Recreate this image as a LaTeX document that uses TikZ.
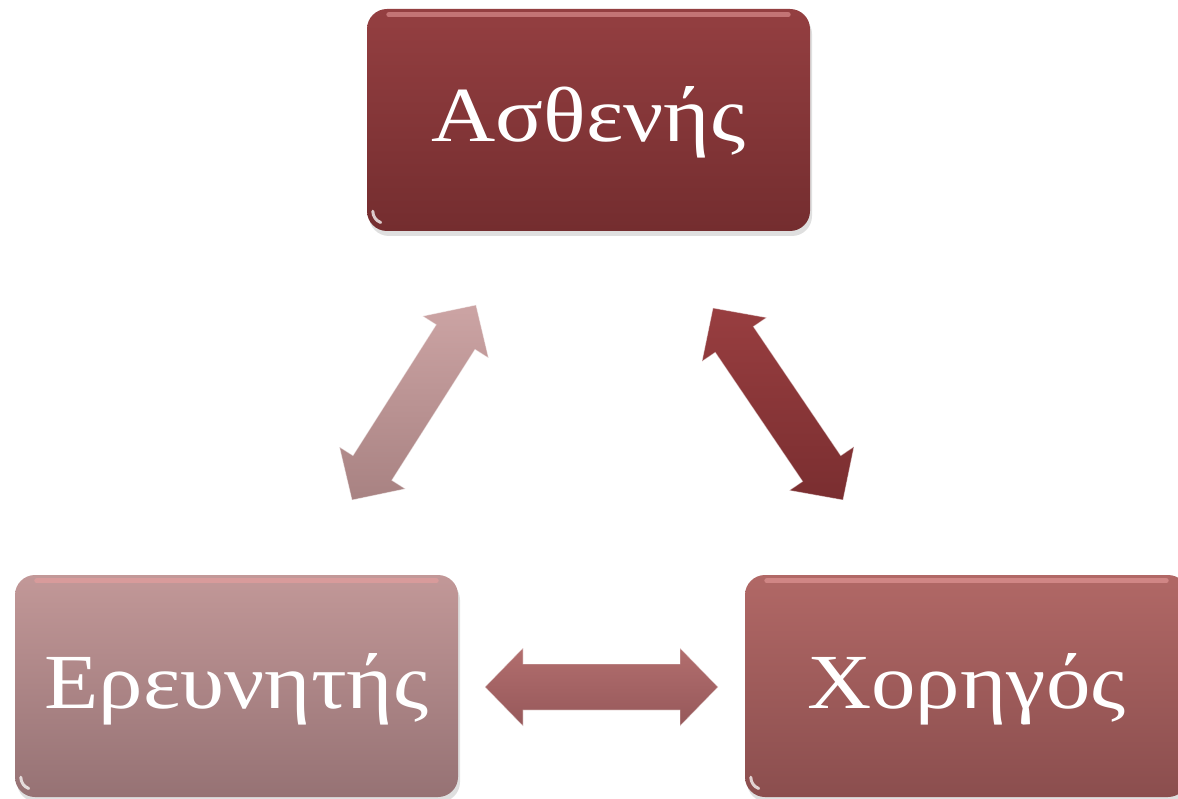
\documentclass[tikz,border=0pt]{standalone}
\usepackage{fontspec}
\setmainfont[FakeStretch=1.14]{Liberation Serif}
\usetikzlibrary{calc,shadows}
\definecolor{patTop}{RGB}{148,63,65}
\definecolor{patBot}{RGB}{116,45,47}
\definecolor{resTop}{RGB}{194,152,152}
\definecolor{resBot}{RGB}{150,114,116}
\definecolor{spoTop}{RGB}{177,104,102}
\definecolor{spoBot}{RGB}{139,78,78}
\definecolor{glossPink}{RGB}{236,160,160}
\definecolor{arLTop}{RGB}{204,164,164}
\definecolor{arLBot}{RGB}{168,130,130}
\definecolor{arRTop}{RGB}{152,62,64}
\definecolor{arRBot}{RGB}{122,46,48}
\definecolor{arBTop}{RGB}{178,110,110}
\definecolor{arBBot}{RGB}{150,88,90}
\tikzset{
  box/.style={rectangle, rounded corners=20pt, minimum width=443pt,
    minimum height=222pt, inner sep=0pt, text=white,
    font=\fontsize{78}{90}\selectfont, text height=50pt, text depth=6pt,
    drop shadow={shadow xshift=2pt, shadow yshift=-5pt, opacity=0.25}},
  gloss/.style={line width=5pt, line cap=round, glossPink, opacity=0.55},
  glint/.style={white, opacity=0.75, line width=3pt, line cap=round},
  barrow/.style={draw=white, draw opacity=0.45, line width=0.8pt, line join=miter},
}
% double block arrow between two named coordinates
\newcommand\blockarrow[3]{%
  \path[barrow,#3] (#1)
    -- ($(#1)!38pt!(#2)!39pt!90:(#2)$)
    -- ($(#1)!38pt!(#2)!23pt!90:(#2)$)
    -- ($(#2)!38pt!(#1)!23pt!-90:(#1)$)
    -- ($(#2)!38pt!(#1)!39pt!-90:(#1)$)
    -- (#2)
    -- ($(#2)!38pt!(#1)!39pt!90:(#1)$)
    -- ($(#2)!38pt!(#1)!23pt!90:(#1)$)
    -- ($(#1)!38pt!(#2)!23pt!-90:(#2)$)
    -- ($(#1)!38pt!(#2)!39pt!-90:(#2)$)
    -- cycle;}
\newcommand\boxgloss[1]{%
  \draw[gloss] ([xshift=22pt,yshift=-6pt]#1.north west) -- ([xshift=-22pt,yshift=-6pt]#1.north east);
  \draw[glint] ([xshift=6pt,yshift=20pt]#1.south west) arc[start angle=180, end angle=250, radius=12pt];}
\begin{document}
\begin{tikzpicture}[x=1pt,y=-1pt]
\useasboundingbox (0,0) rectangle (1178,799);
\fill[white] (0,0) rectangle (1178,799);

\node[box, top color=patTop, bottom color=patBot] (pat) at (588.5,120) {Ασθενής};
\node[box, top color=resTop, bottom color=resBot] (res) at (236.5,686) {Ερευνητής};
\node[box, top color=spoTop, bottom color=spoBot] (spo) at (966.5,686) {Χορηγός};
\boxgloss{pat}
\boxgloss{res}
\boxgloss{spo}

\coordinate (lA) at (352,500);
\coordinate (lB) at (476,305);
\coordinate (rA) at (713,308);
\coordinate (rB) at (843,500);
\coordinate (bA) at (485,687);
\coordinate (bB) at (718,687);

\blockarrow{lA}{lB}{top color=arLTop, bottom color=arLBot}
\blockarrow{rA}{rB}{top color=arRTop, bottom color=arRBot}
\blockarrow{bA}{bB}{top color=arBTop, bottom color=arBBot}
\end{tikzpicture}
\end{document}
